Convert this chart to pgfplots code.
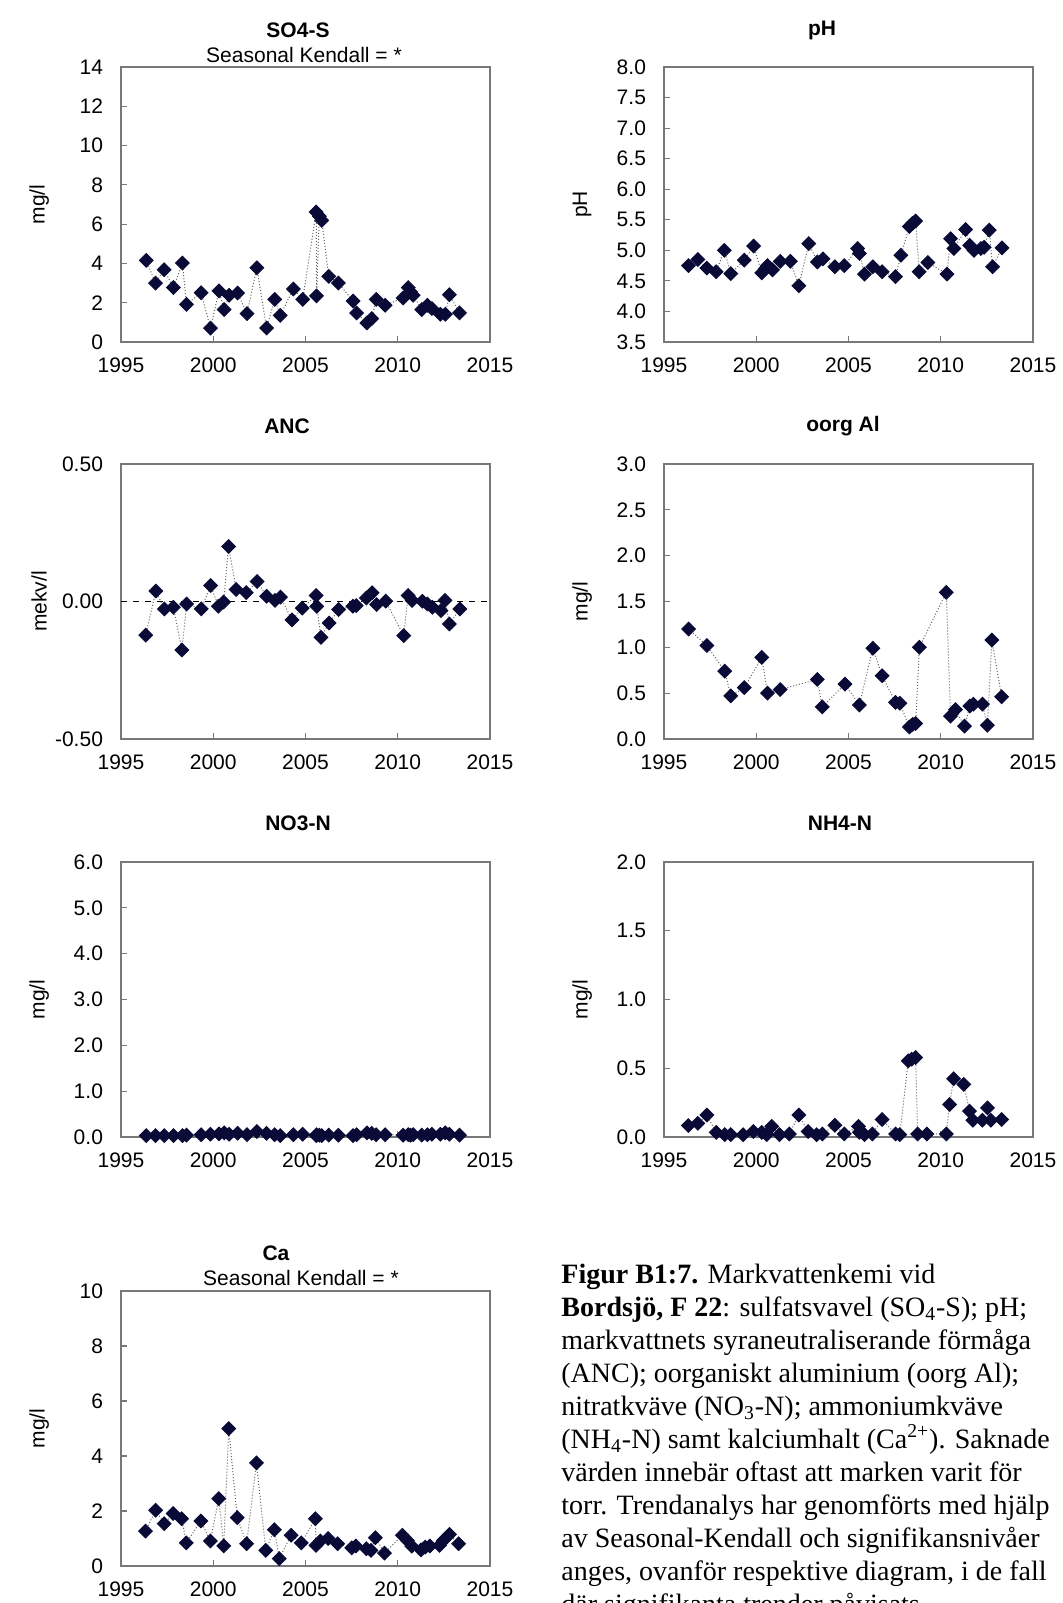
\documentclass[border=0pt]{standalone}
\usepackage{fontspec}
\setmainfont{Liberation Serif}
\setsansfont{Liberation Sans}
\usepackage{pgfplots}
\pgfplotsset{compat=1.18}
\definecolor{axgray}{RGB}{120,120,120}
\definecolor{navy}{RGB}{10,10,55}
\definecolor{lgray}{RGB}{100,100,100}
\newcommand{\chfont}{\sffamily\fontsize{10.5}{12}\selectfont}
\newcommand{\tfont}{\sffamily\bfseries\fontsize{10.5}{12}\selectfont}
\newcommand{\capfont}{\rmfamily\fontsize{14}{16}\selectfont}
\pgfplotsset{
  panel/.style={
    scale only axis, width=184.5pt, height=137.5pt,
    xmin=1995, xmax=2015, xtick={1995,2000,2005,2010,2015},
    axis line style={axgray, line width=0.8pt},
    every tick/.style={axgray, line width=0.6pt},
    tick align=inside, major tick length=3pt,
    xtick pos=bottom, ytick pos=left,
    tick label style={font=\chfont, text=black},
    /pgf/number format/assume math mode=true,
    xticklabel style={/pgf/number format/1000 sep={}, yshift=-4.5pt},
    yticklabel style={xshift=-5.5pt},
    ylabel style={at={(axis description cs:-0.222,0.5)}, anchor=center, font=\chfont},
    anchor=north west, clip=false,
  },
  ser/.style={lgray, densely dotted, line width=0.5pt, mark=square*, mark size=2.4pt,
    mark options={solid, rotate=45, fill=navy, draw=navy}},
  dec1/.style={yticklabel style={/pgf/number format/.cd, fixed, fixed zerofill, precision=1}},
  dec2/.style={yticklabel style={/pgf/number format/.cd, fixed, fixed zerofill, precision=2}},
}
\begin{document}
\begin{tikzpicture}
\path[use as bounding box] (0,0) rectangle (531pt,-801.5pt);

% ---------- SO4-S ----------
\begin{axis}[panel, at={(60.5pt,-33.5pt)}, ymin=0, ymax=14, ytick={0,2,...,14}, ylabel={mg/l}]
\addplot[ser] coordinates {(1996.37,4.16)(1996.87,3.0)(1997.34,3.68)(1997.84,2.77)(1998.33,4.02)(1998.55,1.92)(1999.34,2.51)(1999.85,0.71)(2000.31,2.6)(2000.59,1.65)(2000.86,2.38)(2001.32,2.49)(2001.83,1.44)(2002.36,3.78)(2002.89,0.71)(2003.33,2.17)(2003.63,1.36)(2004.34,2.7)(2004.85,2.17)(2005.58,6.62)(2005.60,2.35)(2005.75,6.4)(2005.88,6.19)(2006.26,3.34)(2006.78,3.0)(2007.58,2.09)(2007.77,1.48)(2008.33,0.97)(2008.59,1.19)(2008.83,2.17)(2009.32,1.87)(2010.29,2.24)(2010.57,2.77)(2010.70,2.55)(2010.84,2.38)(2011.30,1.65)(2011.61,1.87)(2011.85,1.70)(2012.31,1.41)(2012.58,1.41)(2012.80,2.41)(2013.35,1.48)};
\end{axis}

% ---------- pH ----------
\begin{axis}[panel, dec1, at={(332pt,-33.5pt)}, ymin=3.5, ymax=8, ytick={3.5,4,...,8}, ylabel={pH}]
\addplot[ser] coordinates {(1996.33,4.75)(1996.83,4.85)(1997.32,4.71)(1997.83,4.65)(1998.27,5.0)(1998.62,4.62)(1999.35,4.84)(1999.86,5.07)(2000.30,4.63)(2000.50,4.70)(2000.61,4.75)(2000.88,4.68)(2001.30,4.82)(2001.85,4.82)(2002.31,4.42)(2002.85,5.11)(2003.31,4.81)(2003.62,4.86)(2004.26,4.73)(2004.77,4.75)(2005.50,5.03)(2005.59,4.95)(2005.87,4.61)(2006.32,4.73)(2006.82,4.65)(2007.55,4.57)(2007.84,4.92)(2008.30,5.39)(2008.46,5.44)(2008.64,5.48)(2008.83,4.65)(2009.30,4.80)(2010.34,4.61)(2010.53,5.19)(2010.71,5.03)(2011.35,5.34)(2011.57,5.08)(2011.80,5.0)(2012.17,5.03)(2012.35,5.05)(2012.63,5.33)(2012.81,4.73)(2013.32,5.04)};
\end{axis}

% ---------- ANC ----------
\begin{axis}[panel, dec2, at={(60.5pt,-232pt)}, ymin=-0.5, ymax=0.5, ytick={-0.5,0,0.5}, ylabel={mekv/l}]
\addplot[black, dashed, line width=0.6pt, forget plot] coordinates {(1995,0)(2015,0)};
\addplot[ser] coordinates {(1996.34,-0.122)(1996.89,0.038)(1997.35,-0.027)(1997.84,-0.021)(1998.30,-0.176)(1998.56,-0.009)(1999.35,-0.027)(1999.86,0.058)(2000.28,-0.017)(2000.56,-0.002)(2000.83,0.20)(2001.24,0.044)(2001.79,0.032)(2002.38,0.073)(2002.89,0.019)(2003.35,0.004)(2003.64,0.016)(2004.27,-0.067)(2004.82,-0.024)(2005.58,0.022)(2005.61,-0.018)(2005.84,-0.13)(2006.28,-0.078)(2006.80,-0.029)(2007.57,-0.017)(2007.75,-0.015)(2008.30,0.013)(2008.61,0.032)(2008.85,-0.011)(2009.35,0.001)(2010.32,-0.124)(2010.56,0.022)(2010.78,0.004)(2011.33,0.001)(2011.61,-0.009)(2011.88,-0.021)(2012.34,-0.033)(2012.56,0.004)(2012.80,-0.082)(2013.37,-0.027)};
\end{axis}

% ---------- oorg Al ----------
\begin{axis}[panel, dec1, at={(332pt,-232pt)}, ymin=0, ymax=3, ytick={0,0.5,...,3}, ylabel={mg/l}]
\addplot[ser] coordinates {(1996.33,1.20)(1997.32,1.02)(1998.29,0.74)(1998.62,0.47)(1999.35,0.56)(2000.30,0.89)(2000.61,0.50)(2001.30,0.54)(2003.31,0.65)(2003.58,0.35)(2004.81,0.60)(2005.59,0.37)(2006.32,0.99)(2006.82,0.69)(2007.55,0.40)(2007.78,0.39)(2008.30,0.13)(2008.48,0.16)(2008.64,0.17)(2008.84,1.0)(2010.30,1.60)(2010.53,0.25)(2010.80,0.32)(2011.29,0.14)(2011.58,0.36)(2011.77,0.38)(2012.26,0.38)(2012.53,0.15)(2012.77,1.08)(2013.30,0.46)};
\end{axis}

% ---------- NO3-N ----------
\begin{axis}[panel, dec1, at={(60.5pt,-431pt)}, ymin=0, ymax=6, ytick={0,1,...,6}, ylabel={mg/l}]
\addplot[ser] coordinates {(1996.37,0.03)(1996.87,0.03)(1997.34,0.03)(1997.84,0.03)(1998.33,0.03)(1998.55,0.04)(1999.34,0.05)(1999.85,0.06)(2000.31,0.07)(2000.59,0.09)(2000.86,0.06)(2001.32,0.08)(2001.83,0.05)(2002.36,0.12)(2002.89,0.08)(2003.33,0.05)(2003.63,0.03)(2004.34,0.05)(2004.85,0.06)(2005.58,0.03)(2005.60,0.05)(2005.75,0.04)(2005.88,0.03)(2006.26,0.04)(2006.78,0.04)(2007.58,0.03)(2007.77,0.05)(2008.33,0.09)(2008.59,0.08)(2008.83,0.05)(2009.32,0.05)(2010.29,0.04)(2010.57,0.05)(2010.70,0.04)(2010.84,0.05)(2011.30,0.04)(2011.61,0.05)(2011.85,0.06)(2012.31,0.06)(2012.58,0.09)(2012.80,0.06)(2013.35,0.04)};
\end{axis}

% ---------- NH4-N ----------
\begin{axis}[panel, dec1, at={(332pt,-431pt)}, ymin=0, ymax=2, ytick={0,0.5,...,2}, ylabel={mg/l}]
\addplot[ser] coordinates {(1996.32,0.083)(1996.83,0.10)(1997.32,0.16)(1997.83,0.034)(1998.29,0.017)(1998.62,0.017)(1999.29,0.017)(1999.84,0.04)(2000.30,0.034)(2000.57,0.017)(2000.84,0.078)(2001.26,0.017)(2001.79,0.022)(2002.31,0.16)(2002.81,0.04)(2003.27,0.017)(2003.58,0.022)(2004.26,0.085)(2004.77,0.022)(2005.54,0.078)(2005.59,0.034)(2005.87,0.017)(2006.29,0.022)(2006.82,0.127)(2007.55,0.022)(2007.78,0.017)(2008.24,0.554)(2008.42,0.566)(2008.64,0.578)(2008.75,0.022)(2009.25,0.022)(2010.30,0.022)(2010.48,0.237)(2010.70,0.424)(2011.25,0.383)(2011.56,0.188)(2011.74,0.122)(2012.26,0.122)(2012.53,0.212)(2012.72,0.122)(2013.30,0.127)};
\end{axis}

% ---------- Ca ----------
\begin{axis}[panel, at={(60.5pt,-645.5pt)}, ymin=0, ymax=10, ytick={0,2,...,10}, ylabel={mg/l}]
\addplot[ser] coordinates {(1996.33,1.27)(1996.88,2.03)(1997.34,1.54)(1997.83,1.91)(1998.29,1.72)(1998.54,0.84)(1999.33,1.64)(1999.84,0.91)(2000.30,2.45)(2000.57,0.73)(2000.84,5.0)(2001.30,1.76)(2001.81,0.81)(2002.34,3.75)(2002.85,0.57)(2003.31,1.32)(2003.58,0.27)(2004.22,1.12)(2004.77,0.84)(2005.54,1.72)(2005.57,0.75)(2005.80,0.91)(2006.23,1.0)(2006.74,0.81)(2007.51,0.66)(2007.73,0.73)(2008.30,0.63)(2008.55,0.57)(2008.79,1.03)(2009.28,0.47)(2010.25,1.12)(2010.52,0.93)(2010.76,0.72)(2011.26,0.59)(2011.49,0.69)(2011.74,0.73)(2012.26,0.75)(2012.48,0.93)(2012.80,1.15)(2013.30,0.81)};
\end{axis}

% ---------- titles ----------
\begin{scope}[x=0.5pt, y=-0.5pt]
\node[font=\tfont] at (298,30) {SO4-S};
\node[font=\chfont] at (304,55) {Seasonal Kendall = *};
\node[font=\tfont] at (822,30) {pH};
\node[font=\tfont] at (287,426) {ANC};
\node[font=\tfont] at (843,426) {oorg Al};
\node[font=\tfont] at (298,823) {NO3-N};
\node[font=\tfont] at (840,823) {NH4-N};
\node[font=\tfont] at (276,1253) {Ca};
\node[font=\chfont] at (301,1278) {Seasonal Kendall = *};
% caption
\node[anchor=base west, inner sep=0, font=\capfont] at (561,1283) {\textbf{Figur B1:7.} Markvattenkemi vid};
\node[anchor=base west, inner sep=0, font=\capfont] at (561,1316) {\textbf{Bordsjö, F 22}: sulfatsvavel (SO\textsubscript{4}-S); pH;};
\node[anchor=base west, inner sep=0, font=\capfont] at (561,1349) {markvattnets syraneutraliserande förmåga};
\node[anchor=base west, inner sep=0, font=\capfont] at (561,1382) {(ANC); oorganiskt aluminium (oorg Al);};
\node[anchor=base west, inner sep=0, font=\capfont] at (561,1415) {nitratkväve (NO\textsubscript{3}-N); ammoniumkväve};
\node[anchor=base west, inner sep=0, font=\capfont] at (561,1448) {(NH\textsubscript{4}-N) samt kalciumhalt (Ca\textsuperscript{2+}). Saknade};
\node[anchor=base west, inner sep=0, font=\capfont] at (561,1481) {värden innebär oftast att marken varit för};
\node[anchor=base west, inner sep=0, font=\capfont] at (561,1514) {torr. Trendanalys har genomförts med hjälp};
\node[anchor=base west, inner sep=0, font=\capfont] at (561,1547) {av Seasonal-Kendall och signifikansnivåer};
\node[anchor=base west, inner sep=0, font=\capfont] at (561,1580) {anges, ovanför respektive diagram, i de fall};
\node[anchor=base west, inner sep=0, font=\capfont] at (561,1613) {där signifikanta trender påvisats.};
\end{scope}
\end{tikzpicture}
\end{document}
